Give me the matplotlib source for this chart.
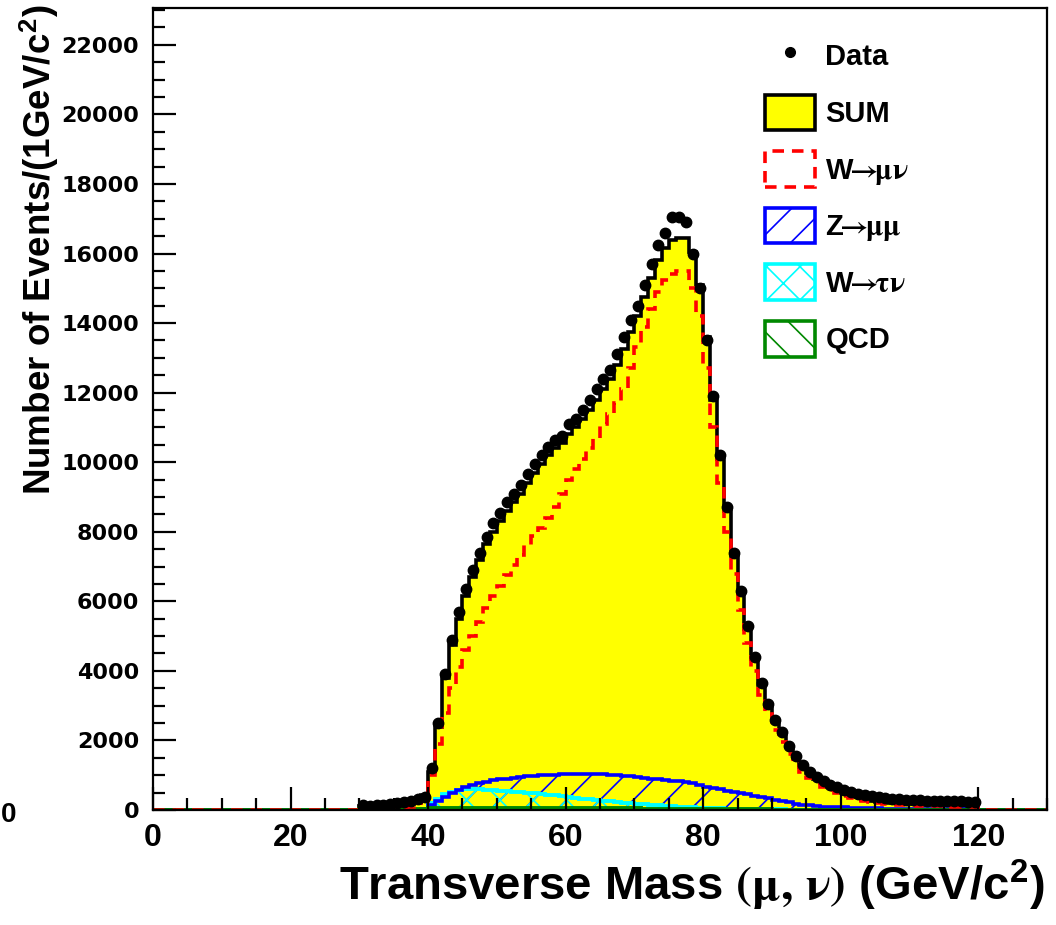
import numpy as np
import matplotlib
matplotlib.use("Agg")
import matplotlib.pyplot as plt
from matplotlib.patches import Patch
from matplotlib.lines import Line2D
from matplotlib.ticker import MultipleLocator, FormatStrFormatter

plt.rcParams['font.family'] = ['Liberation Sans', 'DejaVu Sans']
plt.rcParams['font.weight'] = 'bold'
plt.rcParams['mathtext.fontset'] = 'custom'
plt.rcParams['mathtext.rm'] = 'STIXGeneral'
plt.rcParams['mathtext.it'] = 'STIXGeneral:italic'
plt.rcParams['mathtext.bf'] = 'Liberation Sans:bold'
plt.rcParams['mathtext.sf'] = 'Liberation Sans'
plt.rcParams['mathtext.fallback'] = 'stix'
plt.rcParams['hatch.linewidth'] = 1.2

# ---- data: 1 GeV bins, values for bins starting at 30 GeV (30..119) ----
first_bin = 30
data_counts = [130, 120, 140, 150, 160, 190, 220, 260, 320, 380,
               1200, 2500, 3900, 4900, 5700, 6350, 6900, 7400, 7850, 8250,
               8550, 8850, 9100, 9350, 9650, 9950, 10200, 10450, 10650, 10750,
               11100, 11250, 11500, 11800, 12100, 12400, 12650, 13100, 13600, 14100,
               14500, 15100, 15700, 16250, 16600, 17050, 17050, 16900, 16000, 15000,
               13500, 11900, 10200, 8700, 7400, 6300, 5300, 4400, 3650, 3050,
               2600, 2250, 1850, 1550, 1300, 1100, 960, 830, 730, 650,
               580, 520, 470, 430, 400, 370, 350, 330, 310, 300,
               290, 280, 270, 265, 260, 255, 250, 245, 240, 230]
sum_mc = [120, 120, 130, 140, 150, 170, 200, 240, 300, 420,
          1100, 2400, 3800, 4750, 5500, 6150, 6700, 7200, 7650, 8000,
          8300, 8600, 8850, 9100, 9400, 9700, 9950, 10200, 10400, 10550,
          10800, 11000, 11250, 11500, 11800, 12100, 12400, 12800, 13250, 13750,
          14200, 14750, 15300, 15800, 16150, 16400, 16450, 16450, 16050, 15100,
          13600, 11800, 10100, 8600, 7300, 6200, 5200, 4350, 3600, 3000,
          2550, 2200, 1800, 1500, 1250, 1050, 900, 770, 660, 570,
          480, 410, 360, 310, 270, 240, 215, 195, 180, 170,
          160, 155, 150, 145, 140, 135, 130, 128, 125, 120]
w_munu = [30, 30, 35, 40, 45, 50, 60, 80, 120, 250,
          1000, 1900, 2800, 3500, 4100, 4600, 5000, 5400, 5800, 6150,
          6450, 6750, 7050, 7330, 7620, 7870, 8120, 8400, 8700, 9100,
          9500, 9800, 10100, 10400, 10700, 11100, 11400, 11700, 12100, 12700,
          13300, 13900, 14400, 14900, 15250, 15400, 15500, 15500, 15000, 14200,
          12700, 11000, 9400, 8000, 6800, 5750, 4800, 4000, 3300, 2750,
          2300, 1950, 1600, 1320, 1100, 930, 790, 670, 570, 490,
          400, 340, 290, 250, 220, 195, 175, 160, 150, 140,
          130, 125, 120, 115, 110, 105, 100, 95, 92, 90]
z_mumu = [0, 0, 0, 0, 0, 0, 0, 0, 10, 40,
          130, 250, 380, 480, 570, 650, 715, 770, 815, 850,
          880, 905, 930, 950, 965, 980, 995, 1005, 1015, 1025,
          1030, 1035, 1035, 1035, 1030, 1025, 1015, 1000, 985, 965,
          945, 925, 905, 885, 865, 845, 825, 800, 765, 720,
          670, 630, 590, 555, 520, 490, 455, 415, 375, 335,
          295, 255, 220, 185, 155, 130, 115, 100, 90, 80,
          72, 65, 60, 55, 50, 46, 43, 40, 37, 35,
          33, 31, 29, 27, 25, 23, 21, 20, 19, 18]
w_taunu = [0, 0, 0, 0, 0, 0, 0, 0, 5, 30,
           200, 330, 450, 530, 580, 600, 600, 595, 585, 570,
           555, 540, 525, 510, 495, 480, 460, 440, 420, 400,
           380, 355, 330, 310, 290, 270, 250, 230, 210, 190,
           175, 160, 145, 130, 120, 110, 100, 90, 80, 70,
           60, 50, 45, 40, 35, 30, 27, 24, 21, 19,
           17, 15, 14, 13, 12, 11, 10, 9, 8, 8,
           7, 7, 6, 6, 6, 5, 5, 5, 5, 4,
           4, 4, 4, 4, 4, 4, 4, 4, 4, 4]
qcd = [15, 15, 15, 15, 15, 15, 15, 20, 25, 40,
       55, 60, 65, 68, 70, 70, 70, 70, 68, 66,
       65, 64, 63, 62, 61, 60, 60, 59, 58, 57,
       56, 55, 54, 53, 52, 51, 50, 50, 49, 48,
       45, 40, 35, 30, 28, 26, 25, 24, 23, 22,
       20, 20, 19, 18, 18, 17, 16, 16, 15, 15,
       14, 14, 13, 13, 12, 12, 12, 11, 11, 11,
       10, 10, 10, 10, 10, 10, 10, 10, 10, 10,
       10, 10, 10, 10, 10, 10, 10, 10, 10, 10]

x_min, x_max, y_max = 0, 130, 23060
edges = np.arange(x_min, x_max + 1, 1)
nb = len(edges) - 1

def full(vals):
    arr = np.zeros(nb)
    arr[first_bin:first_bin + len(vals)] = vals
    return arr

H_data = np.array(data_counts, dtype=float)
H_sum, H_w, H_z, H_tau, H_qcd = (full(v) for v in (sum_mc, w_munu, z_mumu, w_taunu, qcd))

W_, H_ = 1056, 925
fig = plt.figure(figsize=(W_ / 100, H_ / 100), dpi=100)
ax = fig.add_axes([153 / W_, 1 - 810 / H_, (1047 - 153) / W_, (810 - 8) / H_])

YEL, RED, BLUE, CYAN, GREEN = '#ffff00', '#ff0000', '#0000ff', '#00ffff', '#008800'
DASH = (0, (3.2, 2.2))

ax.stairs(H_sum, edges, fill=True, facecolor=YEL, edgecolor='none', zorder=1)
ax.stairs(H_sum, edges, color='black', lw=2.6, zorder=1.1)
ax.stairs(H_z, edges, fill=True, facecolor='none', edgecolor=BLUE, hatch='/', lw=0, zorder=1.2)
ax.stairs(H_tau, edges, fill=True, facecolor='none', edgecolor=CYAN, hatch='x', lw=0, zorder=1.25)
ax.stairs(H_tau, edges, color=CYAN, lw=2.8, zorder=1.28)
ax.stairs(H_z, edges, color=BLUE, lw=2.6, zorder=1.3)
ax.stairs(H_qcd, edges, fill=True, facecolor='none', edgecolor=GREEN, hatch='\\', lw=0, zorder=1.32)
ax.stairs(H_qcd, edges, color=GREEN, lw=2.8, zorder=1.33)
ax.stairs(H_w, edges, color=RED, lw=2.6, linestyle=DASH, zorder=1.4)

centers = 0.5 * (edges[first_bin:first_bin + len(H_data)] + edges[first_bin + 1:first_bin + 1 + len(H_data)])
ax.errorbar(centers, H_data, xerr=0.5, yerr=np.sqrt(H_data), fmt='o', color='black',
            ms=7.5, elinewidth=1.8, capsize=0, zorder=3)

ax.set_xlim(x_min, x_max)
ax.set_ylim(0, y_max)
ax.set_axisbelow(False)
ax.xaxis.set_major_locator(MultipleLocator(20))
ax.xaxis.set_minor_locator(MultipleLocator(5))
ax.yaxis.set_major_locator(MultipleLocator(2000))
ax.yaxis.set_minor_locator(MultipleLocator(500))
ax.yaxis.set_major_formatter(FormatStrFormatter('%d'))
ax.xaxis.set_major_formatter(FormatStrFormatter('%d'))
ax.tick_params(which='both', direction='in', width=1.6, color='black')
ax.tick_params(which='major', length=16.5)
ax.tick_params(which='minor', length=8.5)
ax.tick_params(axis='y', labelsize=16, pad=10)
ax.tick_params(axis='x', labelsize=23, pad=9)
ax.tick_params(top=False, right=False, which='both')
for s in ax.spines.values():
    s.set_linewidth(1.6)
for lab in ax.get_yticklabels():
    lab.set_fontweight('bold')
    lab.set_family('DejaVu Sans')
for lab in ax.get_xticklabels():
    lab.set_fontweight('bold')

fig.text(1045 / W_, 1 - 885 / H_, r'Transverse Mass $\mathrm{(\mu,\,\nu)}$ (GeV/c$^{\mathbf{2}}$)',
         ha='right', va='center', fontsize=34, fontweight='bold')
fig.text(39 / W_, 1 - 4 / H_, r'Number of Events/(1GeV/c$^{\mathbf{2}}$)',
         ha='center', va='top', rotation=90, fontsize=26.5, fontweight='bold')
fig.text(0.5 / W_, 1 - 815 / H_, '0', ha='left', va='center', fontsize=20, fontweight='bold')

handles = [
    Line2D([], [], marker='o', color='black', ls='none', ms=7),
    Patch(facecolor=YEL, edgecolor='black', lw=2.6),
    Patch(facecolor='none', edgecolor=RED, lw=2.6, ls=DASH),
    Patch(facecolor='none', edgecolor=BLUE, lw=2.6, hatch='/'),
    Patch(facecolor='none', edgecolor=CYAN, lw=2.6, hatch='x'),
    Patch(facecolor='none', edgecolor=GREEN, lw=2.6, hatch='\\'),
]
labels = ['Data', 'SUM', r'W$\!\!\rightarrow\!\!\mathrm{\mu\nu}$', r'Z$\!\!\rightarrow\!\!\mathrm{\mu\mu}$',
          r'W$\!\!\rightarrow\!\!\mathrm{\tau\nu}$', 'QCD']
leg = fig.legend(handles, labels, loc='upper left', bbox_to_anchor=(765 / W_, 1 - 38 / H_),
                 frameon=False, fontsize=21, handlelength=1.72, handleheight=1.5,
                 labelspacing=0.72, handletextpad=0.35, borderpad=0, borderaxespad=0)
for t in leg.get_texts():
    t.set_fontweight('bold')

fig.savefig('out.png', dpi=100)
